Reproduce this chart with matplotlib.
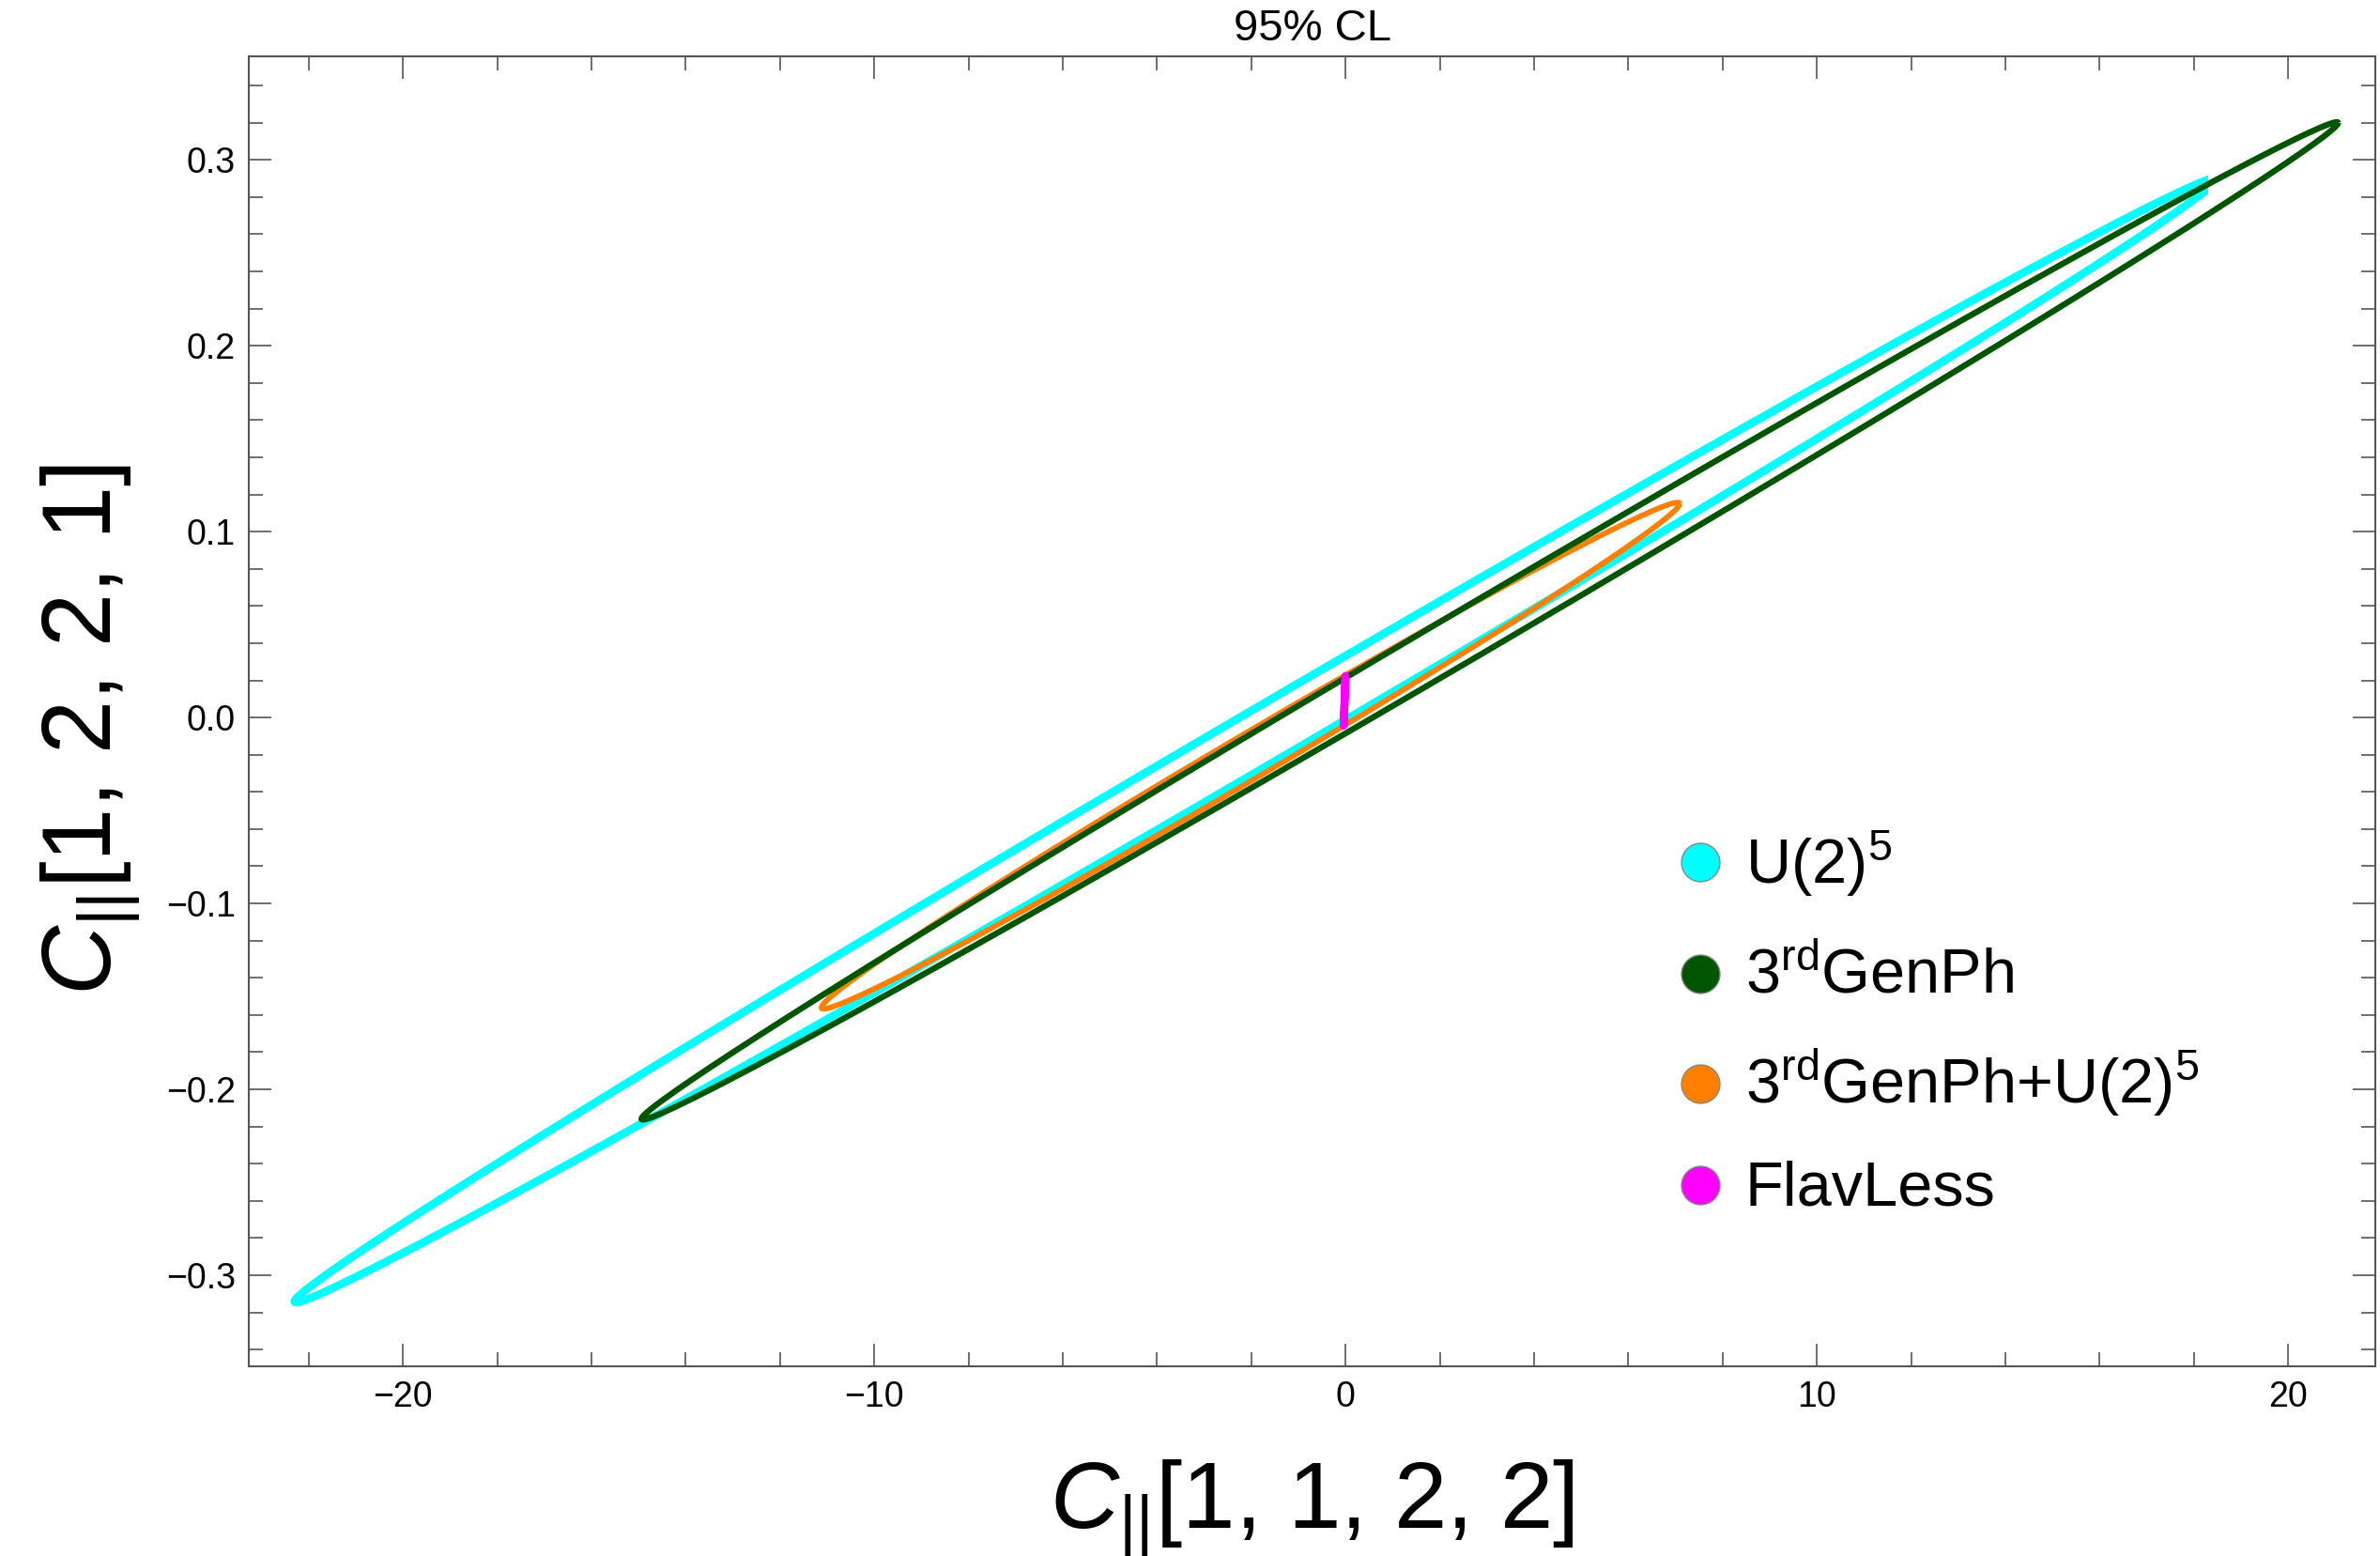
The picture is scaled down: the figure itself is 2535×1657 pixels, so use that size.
import numpy as np
import matplotlib
matplotlib.use("Agg")
import matplotlib.pyplot as plt
from matplotlib.patches import Rectangle
from matplotlib.ticker import MultipleLocator, FuncFormatter

plt.rcParams['font.family'] = ['Liberation Sans', 'DejaVu Sans']
plt.rcParams['mathtext.fontset'] = 'custom'
plt.rcParams['mathtext.rm'] = 'Liberation Sans'
plt.rcParams['mathtext.it'] = 'Liberation Sans:italic'
plt.rcParams['mathtext.bf'] = 'Liberation Sans:bold'
plt.rcParams['mathtext.sf'] = 'Liberation Sans'

# ---- data (95% CL ellipses) ----
models = ["U(2)$^5$", "3$^{\\mathrm{rd}}$GenPh", "3$^{\\mathrm{rd}}$GenPh+U(2)$^5$", "FlavLess"]
colors = ["#00FFFF", "#005500", "#FF8000", "#FF00FF"]
center_x = [-1.90, 3.06, -2.015, -0.02]
center_y = [-0.0121, 0.0520, -0.0205, 0.0090]
half_range_x = [20.40, 18.00, 9.105, 0.02]
tip_offset_y = [0.302, 0.2679, 0.1355, 0.0134]
half_thick_y = [0.0173, 0.0152, 0.0137, 0.0008]
clip_max_x = [18.3, None, None, None]   # U(2)^5 contour is cut at this x
linewidths = [6.2, 4.6, 4.2, 6.0]
zorders = [2, 4, 3, 5]

x_ticks = [-20, -10, 0, 10, 20]
y_ticks = [-0.3, -0.2, -0.1, 0.0, 0.1, 0.2, 0.3]
x_lim = (-23.27, 21.85)
y_lim = (-0.3490, 0.3557)

W, H = 2535, 1657
fig = plt.figure(figsize=(W / 100, H / 100), dpi=100)
L, R, T, B = 265, 2530, 60, 1455
ax = fig.add_axes([L / W, 1 - B / H, (R - L) / W, (B - T) / H])

t = np.linspace(0, 2 * np.pi, 1441)
for i in range(len(models)):
    xs = center_x[i] + half_range_x[i] * np.cos(t)
    ys = center_y[i] + tip_offset_y[i] * np.cos(t) + half_thick_y[i] * np.sin(t)
    ln, = ax.plot(xs, ys, color=colors[i], lw=linewidths[i], zorder=zorders[i],
                  solid_joinstyle='round', solid_capstyle='butt')
    if clip_max_x[i] is not None:
        rect = Rectangle((-100, -10), clip_max_x[i] + 100, 20, transform=ax.transData)
        ln.set_clip_path(rect)

ax.set_xlim(*x_lim)
ax.set_ylim(*y_lim)
ax.set_xticks(x_ticks)
ax.set_yticks(y_ticks)
ax.xaxis.set_minor_locator(MultipleLocator(2))
ax.yaxis.set_minor_locator(MultipleLocator(0.02))
ax.xaxis.set_major_formatter(FuncFormatter(lambda v, p: ("%d" % round(v)).replace('-', '\u2212')))
ax.yaxis.set_major_formatter(FuncFormatter(lambda v, p: ("%.1f" % v).replace('-', '\u2212') if abs(v) > 1e-9 else "0.0"))

tick_col = '#555555'
ax.tick_params(which='both', direction='in', top=True, right=True, colors=tick_col,
               labelcolor='black', labelsize=27, width=1.2)
ax.tick_params(which='major', length=17)
ax.tick_params(which='minor', length=10.5)
ax.tick_params(axis='x', pad=11)
ax.tick_params(axis='y', pad=10)
for s in ax.spines.values():
    s.set_color(tick_col)
    s.set_linewidth(1.5)

ax.set_title("95% CL", fontsize=34, pad=12)

fig.text((L + R) / 2 / W, 1 - 1628 / H, r"$C_{\mathrm{||}}$[1, 1, 2, 2]",
         fontsize=73, ha='center', va='baseline')
fig.text(118 / W, 1 - 777 / H, r"$C_{\mathrm{||}}$[1, 2, 2, 1]",
         fontsize=74, ha='center', va='baseline', rotation=90, rotation_mode='anchor')

# legend (manual layout, Mathematica style)
marker_y = [918, 1037, 1154, 1262]
text_base = [941, 1057, 1175, 1283]
for i in range(len(models)):
    fig.add_artist(plt.Line2D([1811 / W], [1 - marker_y[i] / H], marker='o', ls='',
                              markersize=29.5, markerfacecolor=colors[i],
                              markeredgecolor='#888888', markeredgewidth=1.0,
                              transform=fig.transFigure))
    fig.text(1859 / W, 1 - text_base[i] / H, models[i], fontsize=48,
             ha='left', va='baseline')

fig.savefig("out.png", dpi=100)
